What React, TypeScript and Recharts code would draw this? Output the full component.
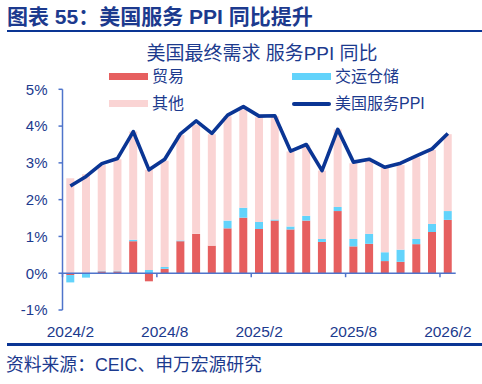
import React from "react";
import { ComposedChart, Bar, Line, XAxis, YAxis, ReferenceLine } from "recharts";

const months = [
  "2024/2", "2024/3", "2024/4", "2024/5", "2024/6", "2024/7", "2024/8", "2024/9", "2024/10",
  "2024/11", "2024/12", "2025/1", "2025/2", "2025/3", "2025/4", "2025/5", "2025/6", "2025/7",
  "2025/8", "2025/9", "2025/10", "2025/11", "2025/12", "2026/1", "2026/2",
];
const trade = [-0.05, 0, 0.05, 0.05, 0.87, -0.22, 0.12, 0.87, 1.07, 0.75, 1.22, 1.51, 1.2, 1.43, 1.19, 1.43, 0.85, 1.69, 0.73, 0.8, 0.33, 0.31, 0.79, 1.12, 1.45];
const transport = [-0.2, -0.12, 0.02, 0.02, 0.04, 0.09, 0.05, 0.02, 0, 0, 0.21, 0.27, 0.19, 0.03, 0.08, 0.13, 0.08, 0.11, 0.2, 0.27, 0.24, 0.33, 0.14, 0.22, 0.24];
const other = [2.58, 2.69, 2.87, 3.03, 2.94, 2.72, 2.89, 2.87, 2.97, 3.03, 2.84, 2.68, 2.85, 2.81, 2.04, 1.93, 1.86, 2.11, 2.06, 2.01, 2.3, 2.3, 2.22, 2.01, 2.09];
const ppi = [2.37, 2.63, 2.98, 3.12, 3.85, 2.81, 3.1, 3.79, 4.14, 3.8, 4.3, 4.53, 4.27, 4.28, 3.32, 3.5, 2.79, 3.91, 3.02, 3.1, 2.88, 2.99, 3.19, 3.38, 3.8];
const yTicks = [-1, 0, 1, 2, 3, 4, 5];

const data = months.map((m, i) => ({
  month: m,
  trade: trade[i],
  transport: transport[i],
  other: other[i],
  ppi: ppi[i],
}));

const W = 482;
const H = 384;
const PLOT_LEFT = 62.5;
const PLOT_RIGHT = 455.7;
const PLOT_TOP = 89.3;
const PLOT_BOTTOM = 310;
const Y_MIN = -1;
const Y_MAX = 5;
const ZERO_Y = PLOT_BOTTOM - ((PLOT_BOTTOM - PLOT_TOP) * (0 - Y_MIN)) / (Y_MAX - Y_MIN);
const HALF_BAND = (PLOT_RIGHT - PLOT_LEFT) / months.length / 2;

const TEXT = "#1c3a8e";
const NAVY = "#0a3594";
const AXIS = "#4f74cb";
const RED = "#e65f5f";
const BLUE = "#62d3fb";
const PINK = "#fad4d4";
const FONT = "'Liberation Sans', Arial, 'Noto Sans CJK SC', sans-serif";

const XTick = (props: any) => {
  const { x, payload } = props;
  return (
    <g>
      <line x1={x - HALF_BAND} x2={x - HALF_BAND} y1={ZERO_Y} y2={ZERO_Y + 4} stroke={AXIS} strokeWidth={1.5} />
      <text x={x} y={331} textAnchor="middle" dominantBaseline="central" fill={TEXT} fontSize={15.5} fontFamily={FONT}>
        {payload.value}
      </text>
    </g>
  );
};

const legendItems = [
  { label: "贸易", type: "rect", color: RED },
  { label: "交运仓储", type: "rect", color: BLUE },
  { label: "其他", type: "rect", color: PINK },
  { label: "美国服务PPI", type: "line", color: NAVY },
];

const LegendBox = () => (
  <div
    style={{
      position: "absolute",
      left: 109,
      top: 63,
      display: "grid",
      gridTemplateColumns: "183px 150px",
      gridAutoRows: "27px",
      fontFamily: FONT,
      fontSize: 16,
      color: TEXT,
    }}
  >
    {legendItems.map((it) => (
      <div key={it.label} style={{ display: "flex", alignItems: "center", height: 27 }}>
        <div
          style={{
            width: 39,
            height: it.type === "rect" ? 7 : 4,
            background: it.color,
            borderRadius: it.type === "line" ? 2 : 0,
            marginRight: 4,
          }}
        />
        <span style={{ lineHeight: "27px", whiteSpace: "nowrap" }}>{it.label}</span>
      </div>
    ))}
  </div>
);

export default function App() {
  return (
    <div style={{ position: "absolute", left: 0, top: 0, width: W, height: H, background: "#fff", overflow: "hidden" }}>
      <div
        style={{
          position: "absolute",
          left: 7,
          top: 3,
          fontFamily: FONT,
          fontWeight: 700,
          fontSize: 21,
          lineHeight: "28px",
          color: TEXT,
          whiteSpace: "nowrap",
        }}
      >
        图表 55：美国服务 PPI 同比提升
      </div>
      <div style={{ position: "absolute", left: 7, top: 29.5, width: W - 7, height: 2.5, background: NAVY }} />
      <div
        style={{
          position: "absolute",
          left: 0,
          width: 524,
          top: 41,
          textAlign: "center",
          fontFamily: FONT,
          fontSize: 19,
          lineHeight: "26px",
          color: TEXT,
          whiteSpace: "nowrap",
        }}
      >
        美国最终需求 服务PPI 同比
      </div>
      <ComposedChart
        width={W}
        height={H}
        data={data}
        stackOffset="sign"
        barCategoryGap="24%"
        margin={{ top: PLOT_TOP, right: W - PLOT_RIGHT, bottom: H - PLOT_BOTTOM - 30, left: PLOT_LEFT - 55 }}
        style={{ position: "absolute", left: 0, top: 0 }}
      >
        <XAxis dataKey="month" interval={5} axisLine={false} tickLine={false} height={30} tick={<XTick />} />
        <YAxis
          width={55}
          domain={[Y_MIN, Y_MAX]}
          ticks={yTicks}
          tickFormatter={(v: number) => `${v}%`}
          axisLine={{ stroke: AXIS, strokeWidth: 1.5 }}
          tickLine={{ stroke: AXIS, strokeWidth: 1.5 }}
          tickSize={4}
          tickMargin={11}
          tick={{ fill: TEXT, fontSize: 15, fontFamily: FONT }}
        />
        <Bar dataKey="trade" name="贸易" stackId="a" fill={RED} isAnimationActive={false} />
        <Bar dataKey="transport" name="交运仓储" stackId="a" fill={BLUE} isAnimationActive={false} />
        <Bar dataKey="other" name="其他" stackId="a" fill={PINK} isAnimationActive={false} />
        <ReferenceLine y={0} stroke={AXIS} strokeWidth={1.5} />
        <Line
          dataKey="ppi"
          name="美国服务PPI"
          type="linear"
          stroke={NAVY}
          strokeWidth={3.6}
          strokeLinejoin="round"
          dot={false}
          isAnimationActive={false}
        />
      </ComposedChart>
      <LegendBox />
      <div style={{ position: "absolute", left: 7, top: 343, width: W - 7, height: 2.5, background: NAVY }} />
      <div
        style={{
          position: "absolute",
          left: 6,
          top: 353,
          fontFamily: FONT,
          fontSize: 17.8,
          lineHeight: "24px",
          color: TEXT,
          whiteSpace: "nowrap",
        }}
      >
        资料来源：CEIC、申万宏源研究
      </div>
    </div>
  );
}
